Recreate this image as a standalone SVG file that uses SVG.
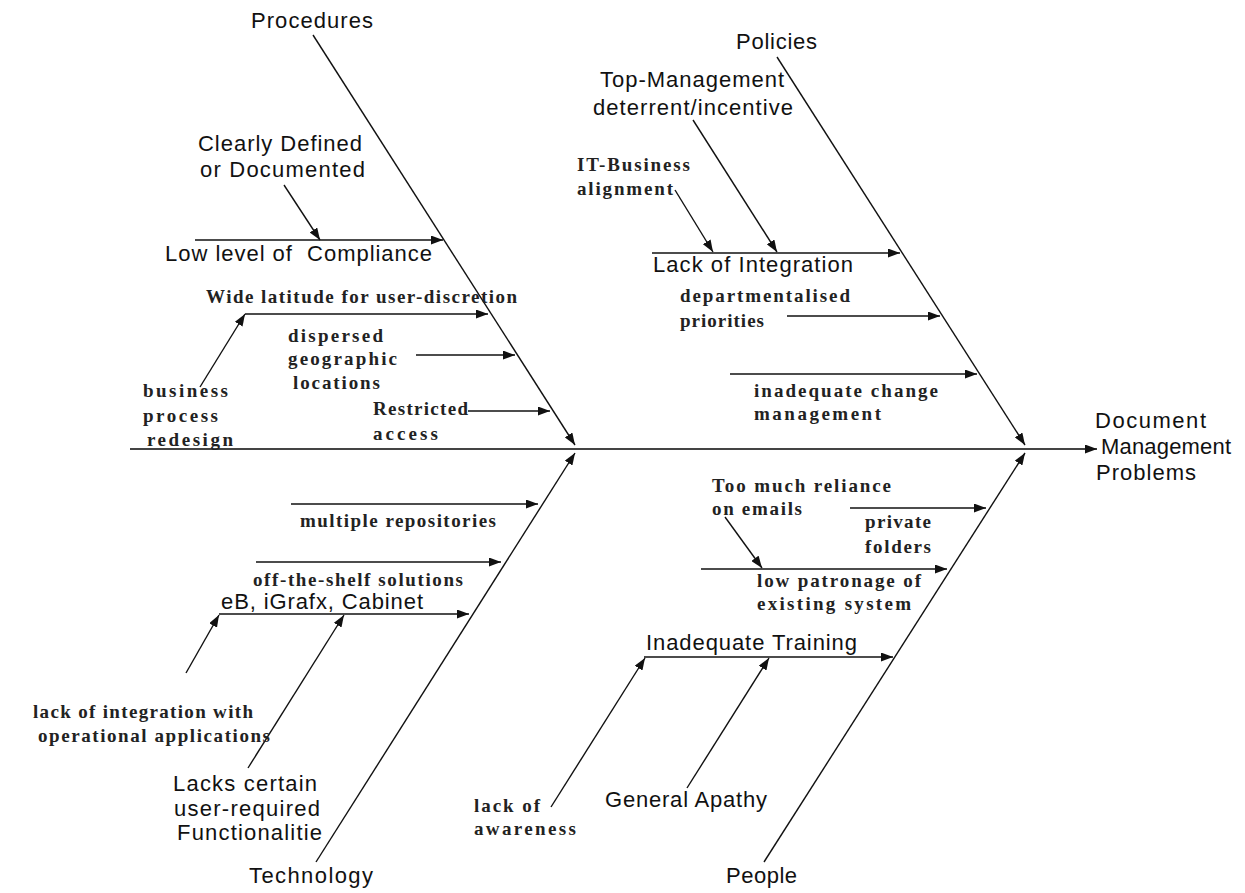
<svg xmlns="http://www.w3.org/2000/svg" width="1245" height="893" viewBox="0 0 1245 893">
  <style>
    .sans { font-family: "Liberation Sans", Arial, sans-serif; font-size: 22px; fill: #111; }
    .serif { font-family: "Liberation Serif", "Times New Roman", serif; font-size: 19px; font-weight: bold; fill: #222; }
    .bone { stroke: #111; stroke-width: 1.4; fill: none; marker-end: url(#arrow); }
    .spine { stroke: #444; stroke-width: 2; fill: none; marker-end: url(#arrow); }
    .pre { white-space: pre; }
  </style>
  <defs>
    <marker id="arrow" markerUnits="userSpaceOnUse" markerWidth="13" markerHeight="9" refX="12" refY="4.5" orient="auto">
      <path d="M0,0 L12,4.5 L0,9 Z" fill="#111"/>
    </marker>
  </defs>
  <rect width="1245" height="893" fill="#fff"/>

  <!-- connectors: main bones, spine and cause arrows -->
  <g id="connectors">
    <line class="spine" x1="130" y1="449" x2="1097" y2="449"/>
    <line class="bone" x1="313" y1="35" x2="575" y2="445"/>
    <line class="bone" x1="316" y1="862" x2="575" y2="453"/>
    <line class="bone" x1="777" y1="57" x2="1025" y2="445"/>
    <line class="bone" x1="764" y1="862" x2="1025" y2="453"/>

    <!-- Procedures -->
    <line class="bone" x1="195" y1="240" x2="443" y2="240"/>
    <line class="bone" x1="284" y1="185" x2="320" y2="240"/>
    <line class="bone" x1="245" y1="314" x2="488" y2="314"/>
    <line class="bone" x1="200" y1="387" x2="245" y2="314"/>
    <line class="bone" x1="416" y1="355" x2="515" y2="355"/>
    <line class="bone" x1="468" y1="411" x2="550" y2="411"/>

    <!-- Policies -->
    <line class="bone" x1="652" y1="253" x2="900" y2="253"/>
    <line class="bone" x1="693" y1="120" x2="777" y2="252"/>
    <line class="bone" x1="675" y1="190" x2="713" y2="252"/>
    <line class="bone" x1="787" y1="316" x2="940" y2="316"/>
    <line class="bone" x1="730" y1="374" x2="977" y2="374"/>

    <!-- Technology -->
    <line class="bone" x1="291" y1="504" x2="538" y2="504"/>
    <line class="bone" x1="256" y1="562" x2="501" y2="562"/>
    <line class="bone" x1="219" y1="614" x2="469" y2="614"/>
    <line class="bone" x1="186" y1="673" x2="219" y2="615"/>
    <line class="bone" x1="248" y1="768" x2="344" y2="615"/>

    <!-- People -->
    <line class="bone" x1="850" y1="508" x2="986" y2="508"/>
    <line class="bone" x1="701" y1="569" x2="947" y2="569"/>
    <line class="bone" x1="725" y1="517" x2="762" y2="568"/>
    <line class="bone" x1="644" y1="657" x2="893" y2="657"/>
    <line class="bone" x1="551" y1="807" x2="645" y2="658"/>
    <line class="bone" x1="687" y1="788" x2="769" y2="658"/>
  </g>

  <!-- effect -->
  <g id="effect">
    <text class="sans" x="1095" y="428" textLength="111">Document</text>
    <text class="sans" x="1101" y="454" textLength="130">Management</text>
    <text class="sans" x="1096" y="480" textLength="100">Problems</text>
  </g>

  <!-- category heads -->
  <g id="procedures"><text class="sans" x="251" y="28" textLength="122">Procedures</text></g>
  <g id="policies"><text class="sans" x="736" y="49" textLength="81">Policies</text></g>
  <g id="technology"><text class="sans" x="249" y="883" textLength="124">Technology</text></g>
  <g id="people"><text class="sans" x="726" y="883" textLength="71">People</text></g>

  <!-- Procedures causes -->
  <g id="clearly-defined">
    <text class="sans" x="198" y="151" textLength="164">Clearly Defined</text>
    <text class="sans" x="200" y="177" textLength="165">or Documented</text>
  </g>
  <g id="low-compliance"><text class="sans pre" x="165" y="261" textLength="267">Low level of  Compliance</text></g>
  <g id="wide-latitude"><text class="serif" x="206" y="303" textLength="311">Wide latitude for user-discretion</text></g>
  <g id="business-process">
    <text class="serif" x="143" y="397" textLength="85">business</text>
    <text class="serif" x="143" y="422" textLength="75">process</text>
    <text class="serif" x="147" y="446" textLength="86">redesign</text>
  </g>
  <g id="dispersed">
    <text class="serif" x="288" y="342" textLength="95">dispersed</text>
    <text class="serif" x="288" y="365" textLength="109">geographic</text>
    <text class="serif" x="293" y="389" textLength="87">locations</text>
  </g>
  <g id="restricted">
    <text class="serif" x="373" y="415" textLength="95">Restricted</text>
    <text class="serif" x="373" y="440" textLength="65">access</text>
  </g>

  <!-- Policies causes -->
  <g id="top-management">
    <text class="sans" x="600" y="87" textLength="184">Top-Management</text>
    <text class="sans" x="593" y="115" textLength="200">deterrent/incentive</text>
  </g>
  <g id="it-business">
    <text class="serif" x="577" y="171" textLength="113">IT-Business</text>
    <text class="serif" x="577" y="195" textLength="96">alignment</text>
  </g>
  <g id="lack-integration"><text class="sans" x="653" y="272" textLength="200">Lack of Integration</text></g>
  <g id="departmentalised">
    <text class="serif" x="680" y="302" textLength="170">departmentalised</text>
    <text class="serif" x="680" y="327" textLength="84">priorities</text>
  </g>
  <g id="change-management">
    <text class="serif" x="754" y="397" textLength="184">inadequate change</text>
    <text class="serif" x="754" y="420" textLength="127">management</text>
  </g>

  <!-- Technology causes -->
  <g id="multiple-repositories"><text class="serif" x="300" y="527" textLength="196">multiple repositories</text></g>
  <g id="off-the-shelf"><text class="serif" x="253" y="586" textLength="210">off-the-shelf solutions</text></g>
  <g id="ebx"><text class="sans" x="221" y="609" textLength="202">eB, iGrafx, Cabinet</text></g>
  <g id="lack-integration-ops">
    <text class="serif" x="33" y="718" textLength="220">lack of integration with</text>
    <text class="serif" x="38" y="742" textLength="232">operational applications</text>
  </g>
  <g id="lacks-functionality">
    <text class="sans" x="173" y="791" textLength="144">Lacks certain</text>
    <text class="sans" x="174" y="816" textLength="146">user-required</text>
    <text class="sans" x="177" y="840" textLength="145">Functionalitie</text>
  </g>

  <!-- People causes -->
  <g id="email-reliance">
    <text class="serif" x="712" y="492" textLength="179">Too much reliance</text>
    <text class="serif" x="712" y="515" textLength="90">on emails</text>
  </g>
  <g id="private-folders">
    <text class="serif" x="865" y="528" textLength="66">private</text>
    <text class="serif" x="865" y="553" textLength="66">folders</text>
  </g>
  <g id="low-patronage">
    <text class="serif" x="757" y="587" textLength="164">low patronage of</text>
    <text class="serif" x="757" y="610" textLength="154">existing system</text>
  </g>
  <g id="inadequate-training"><text class="sans" x="646" y="650" textLength="211">Inadequate Training</text></g>
  <g id="lack-awareness">
    <text class="serif" x="474" y="812" textLength="66">lack of</text>
    <text class="serif" x="474" y="835" textLength="102">awareness</text>
  </g>
  <g id="general-apathy"><text class="sans" x="605" y="807" textLength="162">General Apathy</text></g>
</svg>
